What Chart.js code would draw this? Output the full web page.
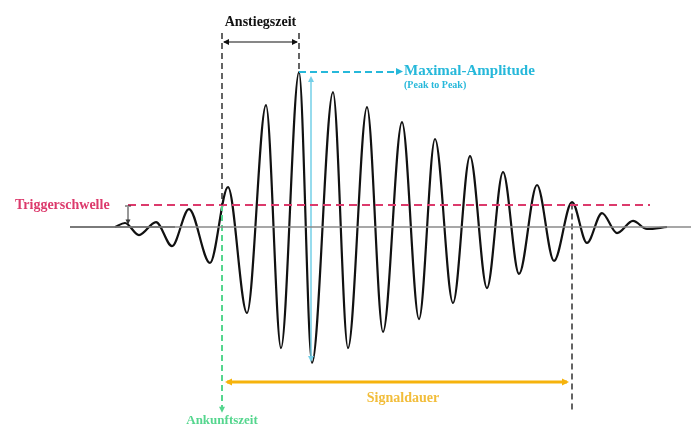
<!DOCTYPE html>
<html><head><meta charset="utf-8">
<script src="https://cdn.jsdelivr.net/npm/chart.js@4/dist/chart.umd.min.js"></script>
<style>html,body{margin:0;padding:0;background:#fff}#wrap{width:691px;height:430px;position:relative}</style>
</head><body><div id="wrap"><canvas id="c"></canvas></div>
<script>
// Waveform extrema (time in µs, amplitude in mV)
const waveTime = [0, 2, 4.8, 8.2, 11.4, 14.8, 19, 22.6, 26.4, 30.2, 33.2, 36.8, 39.4, 43.6, 46.6, 50.4, 53.6, 57.4, 60.8, 64, 67.6, 71, 74.4, 77.6, 80.8, 84.4, 87.8, 91.4, 94.4, 97.4, 100.4, 103.6, 106.4, 110.4];
const waveAmp  = [0, 2.6, -5.2, 3.2, -12.3, 11.6, -23.2, 25.8, -55.5, 78.7, -78.1, 100, -87.7, 87.1, -78.1, 77.4, -67.7, 67.7, -59.4, 56.8, -49, 45.8, -39.4, 35.5, -30.3, 27.1, -21.9, 16.1, -10.3, 9, -3.9, 3.9, -1.3, 0];
// Characteristic values
const thresholdLevel = 14.2;
const thresholdStart = 2.6, thresholdEnd = 107;
const arrivalTime = 21.4;
const peakTime = 36.8;
const p2pTime = 39.2;
const maxAmp = 100, minAmp = -87.7;
const endTime = 91.4;
const baselineStart = -9, baselineEnd = 115.2;
const labels = {rise:'Anstiegszeit', maxAmp:'Maximal-Amplitude', p2p:'(Peak to Peak)', trigger:'Triggerschwelle', arrival:'Ankunftszeit', duration:'Signaldauer'};

const C = {red:'#dc3a6c', green:'#55d68e', cyan:'#26b8da', cyanLight:'#74cfe8', orange:'#f6b30c', black:'#111'};
const wave = waveTime.map((t,i)=>({x:t,y:waveAmp[i]}));
const seg = (a,b,color,w,dash)=>({data:[a,b],borderColor:color,borderWidth:w,borderDash:dash||[],pointRadius:0,tension:0,fill:false});
const labelTime = 57.8;

const overlay = {
  id:'overlay',
  afterDatasetsDraw(chart){
    const {ctx, scales:{x,y}} = chart;
    const px=v=>x.getPixelForValue(v), py=v=>y.getPixelForValue(v);
    function head(xp,yp,dir,color,s){
      ctx.save();ctx.fillStyle=color;ctx.beginPath();
      if(dir==='r'){ctx.moveTo(xp,yp);ctx.lineTo(xp-s,yp-s/2);ctx.lineTo(xp-s,yp+s/2);}
      if(dir==='l'){ctx.moveTo(xp,yp);ctx.lineTo(xp+s,yp-s/2);ctx.lineTo(xp+s,yp+s/2);}
      if(dir==='u'){ctx.moveTo(xp,yp);ctx.lineTo(xp-s/2,yp+s);ctx.lineTo(xp+s/2,yp+s);}
      if(dir==='d'){ctx.moveTo(xp,yp);ctx.lineTo(xp-s/2,yp-s);ctx.lineTo(xp+s/2,yp-s);}
      ctx.closePath();ctx.fill();ctx.restore();
    }
    const topY = 33, riseY = 42;
    ctx.save();ctx.strokeStyle=C.black;ctx.lineWidth=1.2;
    ctx.beginPath();ctx.moveTo(px(arrivalTime)+2,riseY);ctx.lineTo(px(peakTime)-2,riseY);ctx.stroke();ctx.restore();
    head(px(arrivalTime)+1,riseY,'l',C.black,6);head(px(peakTime)-1,riseY,'r',C.black,6);
    ctx.save();ctx.strokeStyle=C.black;ctx.lineWidth=1.3;ctx.setLineDash([6,4]);
    ctx.beginPath();ctx.moveTo(px(arrivalTime),topY);ctx.lineTo(px(arrivalTime),py(thresholdLevel));ctx.stroke();
    ctx.beginPath();ctx.moveTo(px(peakTime),topY);ctx.lineTo(px(peakTime),py(maxAmp));ctx.stroke();
    ctx.restore();
    ctx.save();ctx.strokeStyle='#333';ctx.lineWidth=1;
    ctx.beginPath();ctx.moveTo(px(thresholdStart),py(thresholdLevel)+2);ctx.lineTo(px(thresholdStart),py(2.2));ctx.stroke();
    ctx.beginPath();ctx.moveTo(px(thresholdStart)-3,py(thresholdLevel)+1);ctx.lineTo(px(thresholdStart)+3,py(thresholdLevel)+1);ctx.stroke();
    ctx.restore();
    head(px(thresholdStart),py(1.6),'d','#333',5);
    head(px(labelTime)-1,py(maxAmp)-0.5,'r',C.cyan,7);
    head(px(p2pTime),py(maxAmp)+4,'u',C.cyanLight,6);
    head(px(p2pTime),py(minAmp)-1,'d',C.cyanLight,6);
    head(px(arrivalTime)+3,py(-100),'l',C.orange,7);
    head(px(endTime)-3,py(-100),'r',C.orange,7);
    head(px(arrivalTime),py(-118)+3,'d',C.green,6);
    ctx.save();ctx.textBaseline='middle';
    ctx.font='bold 14px "Liberation Serif", serif';ctx.fillStyle=C.black;ctx.textAlign='center';
    ctx.fillText(labels.rise,(px(arrivalTime)+px(peakTime))/2,22);
    ctx.font='bold 15px "Liberation Serif", serif';ctx.fillStyle=C.cyan;ctx.textAlign='left';
    ctx.fillText(labels.maxAmp,px(labelTime),py(maxAmp)-0.5);
    ctx.font='bold 10px "Liberation Serif", serif';
    ctx.fillText(labels.p2p,px(labelTime),py(maxAmp)+13);
    ctx.font='bold 14px "Liberation Serif", serif';ctx.fillStyle=C.red;ctx.textAlign='left';
    ctx.fillText(labels.trigger,15,py(thresholdLevel));
    ctx.font='bold 13px "Liberation Serif", serif';ctx.fillStyle=C.green;ctx.textAlign='center';
    ctx.fillText(labels.arrival,px(arrivalTime),421);
    ctx.font='bold 14px "Liberation Serif", serif';ctx.fillStyle='#f2bd3a';
    ctx.fillText(labels.duration,(px(arrivalTime)+px(endTime))/2+6,398);
    ctx.restore();
  }
};

new Chart(document.getElementById('c'),{
  type:'line',
  data:{datasets:[
    seg({x:baselineStart,y:0},{x:baselineEnd,y:0},'#8a8a8a',1.6),
    seg({x:baselineStart,y:0},{x:12,y:0},'#111',1.4),
    seg({x:thresholdStart,y:thresholdLevel},{x:thresholdEnd,y:thresholdLevel},C.red,2,[8,5]),
    seg({x:peakTime,y:maxAmp},{x:labelTime-1.5,y:maxAmp},C.cyan,2,[7,4]),
    seg({x:p2pTime,y:maxAmp-4},{x:p2pTime,y:minAmp+2},C.cyanLight,1.5),
    seg({x:arrivalTime,y:thresholdLevel},{x:arrivalTime,y:-117},C.green,2,[6,4]),
    seg({x:endTime,y:thresholdLevel+1},{x:endTime,y:-118},'#111',1.3,[6,4]),
    seg({x:arrivalTime+1,y:-100},{x:endTime-1,y:-100},C.orange,3),
    {data:wave,borderColor:'#111',borderWidth:2.2,pointRadius:0,cubicInterpolationMode:'monotone',fill:false}
  ]},
  options:{
    responsive:true,maintainAspectRatio:false,animation:false,
    layout:{padding:0},
    plugins:{legend:{display:false},tooltip:{enabled:false}},
    elements:{line:{borderCapStyle:'butt'}},
    datasets:{line:{clip:false}},
    scales:{
      x:{type:'linear',display:false,min:-23,max:115.2},
      y:{type:'linear',display:false,min:-131,max:146.5}
    }
  },
  plugins:[overlay]
});
</script></body></html>
